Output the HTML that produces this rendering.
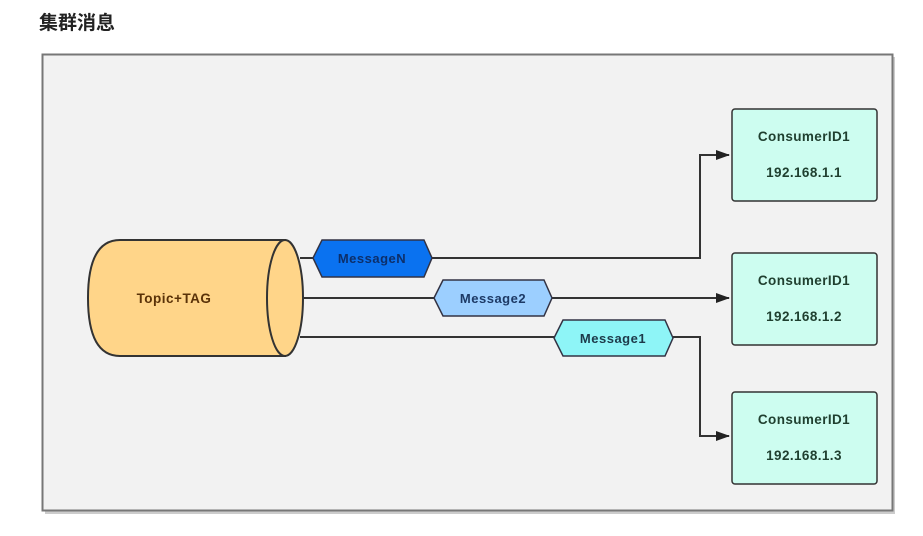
<!DOCTYPE html>
<html><head><meta charset="utf-8"><style>
body{margin:0;width:923px;height:536px;background:#fff;overflow:hidden;font-family:"Liberation Sans","Noto Sans CJK SC",sans-serif}
</style></head><body>
<svg width="923" height="536" xmlns="http://www.w3.org/2000/svg" style="position:absolute;left:0;top:0">
<defs><marker id="a" markerWidth="14" markerHeight="10" refX="13" refY="5" orient="auto" markerUnits="userSpaceOnUse"><path d="M0,0 L14,5 L0,10 z" fill="#222"/></marker></defs>
<text x="39" y="29" font-size="19" font-weight="bold" fill="#222" font-family="Liberation Sans,Noto Sans CJK SC,sans-serif">集群消息</text>
<rect x="45" y="57" width="850" height="457" fill="#999" opacity="0.5"/>
<rect x="42.5" y="54.5" width="850" height="456" fill="#f2f2f2" stroke="#777" stroke-width="2"/>
<g stroke="#333" stroke-width="2" fill="none">
<polyline points="300,258 700,258 700,155 729,155" marker-end="url(#a)"/>
<line x1="300" y1="298" x2="729" y2="298" marker-end="url(#a)"/>
<polyline points="300,337 700,337 700,436 729,436" marker-end="url(#a)"/>
</g>
<path d="M120,240 L285,240 L285,356 L120,356 Q88,356 88,298 Q88,240 120,240 Z" fill="#ffd589" stroke="#333" stroke-width="2"/>
<ellipse cx="285" cy="298" rx="18" ry="58" fill="#ffd589" stroke="#333" stroke-width="2"/>
<text x="174" y="303" font-size="13.5" font-weight="bold" fill="#5a3208" text-anchor="middle" letter-spacing="0.5">Topic+TAG</text>
<polygon points="313,258 322,240 424,240 432,258 424,277 322,277" fill="#0a72f0" stroke="#334" stroke-width="1.5"/>
<text x="372" y="263" font-size="13" font-weight="bold" fill="#0d2f6a" text-anchor="middle" letter-spacing="0.5">MessageN</text>
<polygon points="434,298 443,280 544,280 552,298 544,316 443,316" fill="#9ccfff" stroke="#334" stroke-width="1.5"/>
<text x="493" y="303" font-size="13" font-weight="bold" fill="#1d3a66" text-anchor="middle" letter-spacing="0.5">Message2</text>
<polygon points="554,338 563,320 665,320 673,338 665,356 563,356" fill="#8ef5f7" stroke="#334" stroke-width="1.5"/>
<text x="613" y="343" font-size="13" font-weight="bold" fill="#1d3a4a" text-anchor="middle" letter-spacing="0.5">Message1</text>
<g fill="#cdfdf0" stroke="#333" stroke-width="1.5">
<rect x="732" y="109" width="145" height="92" rx="3"/>
<rect x="732" y="253" width="145" height="92" rx="3"/>
<rect x="732" y="392" width="145" height="92" rx="3"/>
</g>
<g font-size="13.5" font-weight="bold" fill="#1f3f2f" text-anchor="middle" letter-spacing="0.4">
<text x="804" y="141">ConsumerID1</text><text x="804" y="177">192.168.1.1</text>
<text x="804" y="285">ConsumerID1</text><text x="804" y="321">192.168.1.2</text>
<text x="804" y="424">ConsumerID1</text><text x="804" y="460">192.168.1.3</text>
</g>
</svg>
</body></html>
